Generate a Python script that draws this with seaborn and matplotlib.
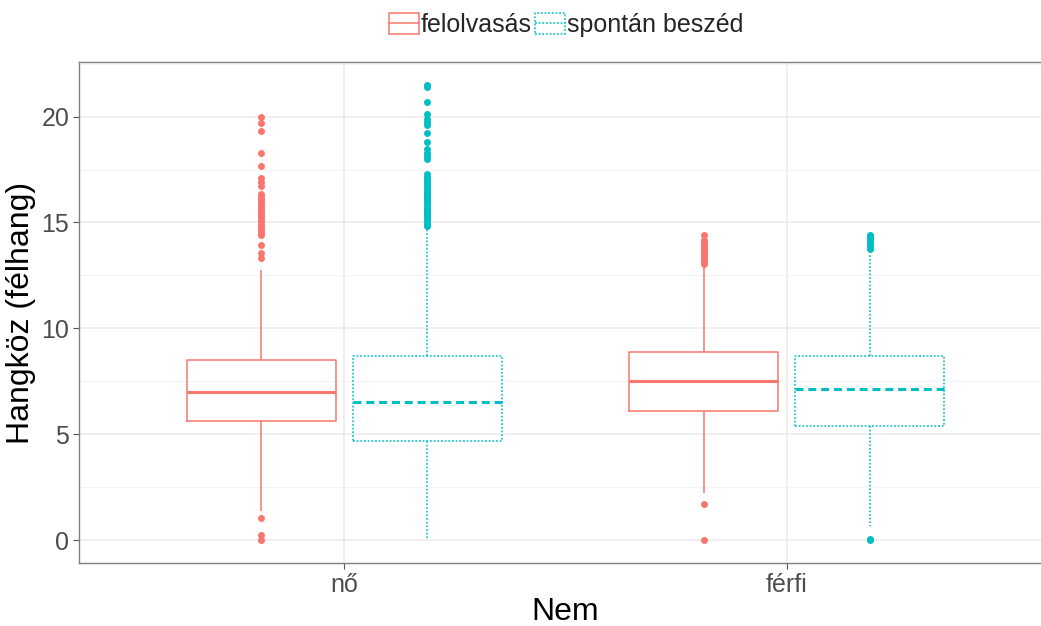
import numpy as np
import pandas as pd
import matplotlib
matplotlib.use('Agg')
import matplotlib.pyplot as plt
import seaborn as sns
from matplotlib.patches import Patch
from matplotlib.lines import Line2D
from matplotlib.legend_handler import HandlerTuple
from matplotlib.ticker import MultipleLocator

# categories
nem_order = ['nő', 'férfi']
tipus_order = ['felolvasás', 'spontán beszéd']
colors = {'felolvasás': '#F8766D', 'spontán beszéd': '#00BFC4'}

# box summaries: (nem, tipus)
q1 = {('nő', 'felolvasás'): 5.61, ('nő', 'spontán beszéd'): 4.67,
      ('férfi', 'felolvasás'): 6.11, ('férfi', 'spontán beszéd'): 5.40}
median = {('nő', 'felolvasás'): 6.98, ('nő', 'spontán beszéd'): 6.54,
          ('férfi', 'felolvasás'): 7.53, ('férfi', 'spontán beszéd'): 7.14}
q3 = {('nő', 'felolvasás'): 8.52, ('nő', 'spontán beszéd'): 8.72,
      ('férfi', 'felolvasás'): 8.87, ('férfi', 'spontán beszéd'): 8.72}
whisker_lo = {('nő', 'felolvasás'): 1.39, ('nő', 'spontán beszéd'): 0.0,
              ('férfi', 'felolvasás'): 2.25, ('férfi', 'spontán beszéd'): 0.68}
whisker_hi = {('nő', 'felolvasás'): 12.77, ('nő', 'spontán beszéd'): 14.7,
              ('férfi', 'felolvasás'): 12.95, ('férfi', 'spontán beszéd'): 13.52}

# outliers
outliers = {
    ('nő', 'felolvasás'): [0.0, 0.24, 1.04,
                           13.3, 13.55, 13.95, 14.4, 14.5, 14.6, 14.7, 14.8,
                           14.9, 15.0, 15.1, 15.2, 15.3, 15.4, 15.5, 15.6, 15.7,
                           15.8, 15.9, 16.0, 16.1, 16.2, 16.35, 16.7, 16.9,
                           17.1, 17.65, 18.3, 19.3, 19.7, 20.0],
    ('nő', 'spontán beszéd'): [14.85, 14.95, 15.05, 15.15, 15.25, 15.35, 15.45,
                               15.55, 15.65, 15.75, 15.85, 15.95, 16.05, 16.15,
                               16.25, 16.35, 16.45, 16.55, 16.65, 16.75, 16.85,
                               16.95, 17.05, 17.15, 17.3, 18.0, 18.15, 18.3,
                               18.45, 18.8, 19.2, 19.6, 19.75, 19.9, 20.1, 20.7,
                               21.4, 21.5],
    ('férfi', 'felolvasás'): [0.0, 1.69,
                              13.05, 13.15, 13.25, 13.35, 13.45, 13.55, 13.65,
                              13.75, 13.85, 13.95, 14.05, 14.15, 14.42],
    ('férfi', 'spontán beszéd'): [0.0, 0.05,
                                  13.75, 13.85, 13.95, 14.05, 14.15, 14.25,
                                  14.35, 14.42],
}

# build a long table whose quartiles/whiskers reproduce the boxes above
rows = []
N = 300
for key in q1:
    vals = ([whisker_lo[key], whisker_hi[key]] + [q1[key]] * N
            + [median[key]] * N + [q3[key]] * N + outliers[key])
    for v in vals:
        rows.append({'Nem': key[0], 'tipus': key[1], 'Hangköz': v})
df = pd.DataFrame(rows)

sns.set_theme(style='white')
plt.rcParams['font.family'] = ['Liberation Sans', 'DejaVu Sans']

fig = plt.figure(figsize=(10.41, 6.26), dpi=100)
ax = fig.add_axes([79 / 1041, 63 / 626, 973 / 1041, 501 / 626])

line_styles = {'felolvasás': '-', 'spontán beszéd': (0, (1.2, 1.2))}
median_styles = {'felolvasás': '-', 'spontán beszéd': (0, (2.6, 1.6))}

for t in tipus_order:
    c = colors[t]
    sns.boxplot(data=df[df['tipus'] == t], x='Nem', y='Hangköz', hue='tipus',
                order=nem_order, hue_order=tipus_order, palette=colors,
                dodge=True, fill=False, width=0.75, gap=0.1, linewidth=1.1,
                showcaps=False, whis=1.5, legend=False, ax=ax,
                boxprops={'linestyle': line_styles[t]},
                whiskerprops={'linestyle': line_styles[t]},
                medianprops={'linestyle': median_styles[t], 'linewidth': 2.2,
                             'color': c},
                flierprops={'marker': 'o', 'markerfacecolor': c,
                            'markeredgecolor': c, 'markersize': 5,
                            'markeredgewidth': 0})

ax.set_xlim(-0.6, 1.6)
ax.set_ylim(-1.075, 22.575)
ax.yaxis.set_major_locator(MultipleLocator(5))
ax.yaxis.set_minor_locator(MultipleLocator(2.5))
ax.set_axisbelow(True)
ax.grid(True, which='major', color='#EBEBEB', linewidth=1.1)
ax.grid(True, which='minor', axis='y', color='#F2F2F2', linewidth=0.6)

for side in ['top', 'left', 'bottom', 'right']:
    ax.spines[side].set_color('#7F7F7F')
    ax.spines[side].set_linewidth(1.0)

ax.tick_params(axis='both', which='major', length=4, width=0.8,
               color='#555555', labelcolor='#4D4D4D', labelsize=18, pad=3,
               bottom=True, left=True)
ax.tick_params(axis='y', which='minor', length=0)

ax.set_xlabel('Nem', fontsize=23, color='black', labelpad=0)
ax.set_ylabel('Hangköz (félhang)', fontsize=23, color='black', labelpad=4)

handles = []
for t in tipus_order:
    c = colors[t]
    box = Patch(facecolor='white', edgecolor=c, linestyle=line_styles[t],
                linewidth=1.1)
    mid = Line2D([], [], color=c, linestyle=line_styles[t], linewidth=1.1)
    handles.append((box, mid))
fig.legend(handles, tipus_order, loc='center', ncol=2,
           bbox_to_anchor=(566 / 1041, 1 - 25 / 626), frameon=False,
           fontsize=18, handlelength=1.2, handleheight=0.9,
           handletextpad=0.1, columnspacing=0.1,
           handler_map={tuple: HandlerTuple(ndivide=1, pad=0)})

fig.savefig('out.png', dpi=100)
